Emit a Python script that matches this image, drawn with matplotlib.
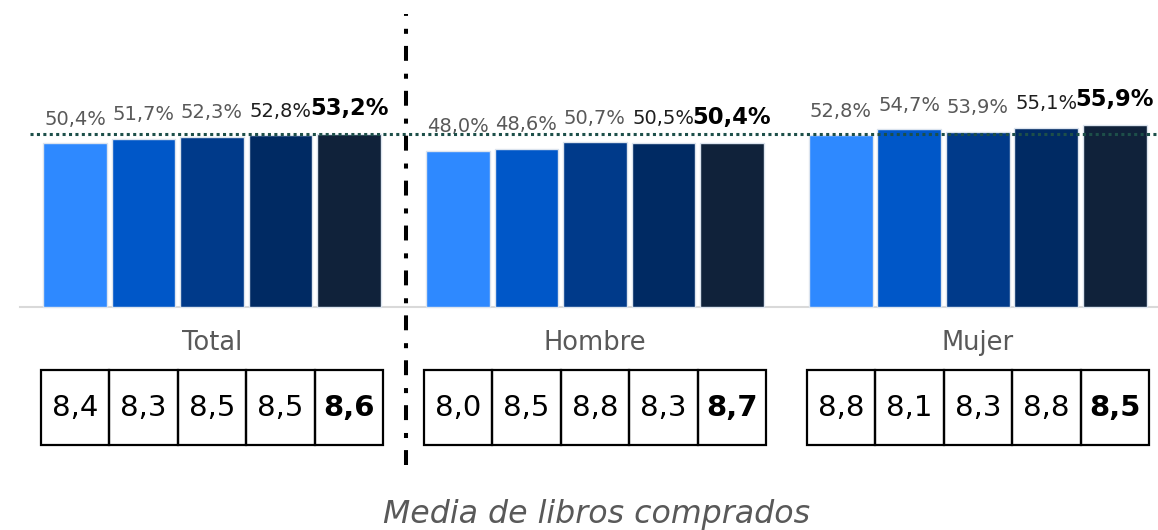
import matplotlib.pyplot as plt
from matplotlib.patches import Rectangle

plt.rcParams['font.family'] = ['DejaVu Sans']

groups = ['Total', 'Hombre', 'Mujer']
pct = [
    [50.4, 51.7, 52.3, 52.8, 53.2],
    [48.0, 48.6, 50.7, 50.5, 50.4],
    [52.8, 54.7, 53.9, 55.1, 55.9],
]
media_libros = [
    [8.4, 8.3, 8.5, 8.5, 8.6],
    [8.0, 8.5, 8.8, 8.3, 8.7],
    [8.8, 8.1, 8.3, 8.8, 8.5],
]
bar_colors = ['#2e89ff', '#0057c8', '#003a8a', '#002a63', '#10223a']
label_colors = ['#595959', '#595959', '#595959', '#1e1e1e', '#000000']

group_step = 5.59   # distance between group starts, in bar units
bar_w = 0.93
px = 3.25           # pixels per percentage point

def fmt(v, dec=1):
    return f'{v:.{dec}f}'.replace('.', ',')

fig = plt.figure(figsize=(11.58, 5.30), dpi=100)
ax = fig.add_axes([0, 0, 1, 1])
ax.set_xlim(-75 / 68.5, (1158 - 75) / 68.5)
ax.set_ylim(-223 / px, 307 / px)
ax.axis('off')

for g, name in enumerate(groups):
    xs = [g * group_step + i for i in range(5)]
    ax.bar(xs, pct[g], width=bar_w, color=bar_colors,
           edgecolor='#dce4ee', linewidth=1, zorder=2)
    for i, (x, v) in enumerate(zip(xs, pct[g])):
        last = i == 4
        ax.annotate(fmt(v) + '%', (x, v), xytext=(0, 10.5),
                    textcoords='offset points', ha='center', va='bottom',
                    fontsize=16.3 if last else 14,
                    fontweight='bold' if last else 'normal',
                    color=label_colors[i], zorder=3)

    # group name under the axis line
    ax.text((xs[0] + xs[-1]) / 2, -11.1, name, ha='center', va='center',
            fontsize=18.5, color='#595959')

    # table of average books bought
    top, bot = -19.4, -42.5
    for i, (x, v) in enumerate(zip(xs, media_libros[g])):
        ax.add_patch(Rectangle((x - 0.5, bot), 1, top - bot, fill=False,
                               edgecolor='black', linewidth=1.6,
                               clip_on=False))
        ax.text(x, (top + bot) / 2, fmt(v), ha='center', va='center',
                fontsize=21, fontweight='bold' if i == 4 else 'normal',
                color='black')

# baseline
ax.axhline(0, xmin=20 / 1158, xmax=1, color='#d9d9d9', linewidth=1.5, zorder=1)

# reference line at the overall value
ax.axhline(pct[0][-1], xmin=30 / 1158, xmax=1, color='#1d4f49',
           linewidth=2.2, linestyle=(0, (1, 1.1)), zorder=4)

# separator between Total and the breakdown by sex
sep_x = 4.83
ax.plot([sep_x, sep_x], [-48.6, 90.2], color='black', linewidth=2.9,
        linestyle=(0, (3.7, 3.0, 1.25, 3.2)), solid_capstyle='butt', zorder=4)

ax.text(7.62, -64, 'Media de libros comprados',
        ha='center', va='center', fontsize=22.8, style='italic',
        color='#595959')

fig.savefig('out.png', dpi=100)
